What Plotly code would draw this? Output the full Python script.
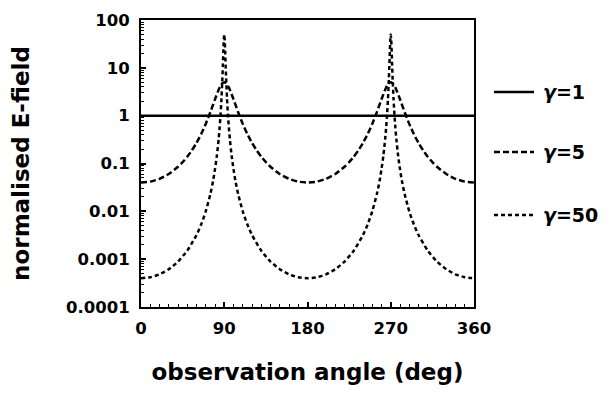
import plotly.graph_objects as go

# observation angle (deg) and normalised E-field for each Lorentz factor
angle_g1 = [0, 360]
field_g1 = [1.0, 1.0]

angle_g5 = [0, 10, 20, 30, 40, 45, 50, 55, 60, 65, 70, 75, 80, 85, 87.5, 90,
            92.5, 95, 100, 105, 110, 115, 120, 125, 130, 135, 140, 150, 160, 170, 180,
            190, 200, 210, 220, 225, 230, 235, 240, 245, 250, 255, 260, 265, 267.5, 270,
            272.5, 275, 280, 285, 290, 295, 300, 305, 310, 315, 320, 330, 340, 350, 360]
field_g5 = [0.040, 0.0418, 0.0478, 0.0604, 0.0854, 0.1067, 0.1386, 0.1885, 0.270, 0.411,
            0.673, 1.187, 2.206, 3.888, 4.68, 5.0,
            4.68, 3.888, 2.206, 1.187, 0.673, 0.411, 0.270, 0.1885, 0.1386, 0.1067, 0.0854,
            0.0604, 0.0478, 0.0418, 0.040,
            0.0418, 0.0478, 0.0604, 0.0854, 0.1067, 0.1386, 0.1885, 0.270, 0.411,
            0.673, 1.187, 2.206, 3.888, 4.68, 5.0,
            4.68, 3.888, 2.206, 1.187, 0.673, 0.411, 0.270, 0.1885, 0.1386, 0.1067, 0.0854,
            0.0604, 0.0478, 0.0418, 0.040]

angle_g50 = [0, 10, 20, 30, 40, 50, 60, 65, 70, 75, 78, 80, 82, 84, 85, 86, 87, 88, 88.5, 89, 89.5, 90,
             90.5, 91, 91.5, 92, 93, 94, 95, 96, 98, 100, 102, 105, 110, 115, 120, 130, 140, 150, 160, 170, 180,
             190, 200, 210, 220, 230, 240, 245, 250, 255, 258, 260, 262, 264, 265, 266, 267, 268, 268.5, 269, 269.5, 270,
             270.5, 271, 271.5, 272, 273, 274, 275, 276, 278, 280, 282, 285, 290, 295, 300, 310, 320, 330, 340, 350, 360]
field_g50 = [0.000400, 0.000419, 0.000482, 0.000616, 0.000890, 0.001506, 0.0032, 0.0053, 0.0100, 0.0231,
             0.0439, 0.0764, 0.144, 0.332, 0.560, 1.047, 2.27, 6.15, 11.2, 21.4, 38.5, 50.0,
             38.5, 21.4, 11.2, 6.15, 2.27, 1.047, 0.560, 0.332, 0.144, 0.0764, 0.0439, 0.0231, 0.0100,
             0.0053, 0.0032, 0.001506, 0.000890, 0.000616, 0.000482, 0.000419, 0.000400,
             0.000419, 0.000482, 0.000616, 0.000890, 0.001506, 0.0032, 0.0053, 0.0100, 0.0231,
             0.0439, 0.0764, 0.144, 0.332, 0.560, 1.047, 2.27, 6.15, 11.2, 21.4, 38.5, 50.0,
             38.5, 21.4, 11.2, 6.15, 2.27, 1.047, 0.560, 0.332, 0.144, 0.0764, 0.0439, 0.0231, 0.0100,
             0.0053, 0.0032, 0.001506, 0.000890, 0.000616, 0.000482, 0.000419, 0.000400]

x_ticks = [0, 90, 180, 270, 360]
y_ticks = [0.0001, 0.001, 0.01, 0.1, 1, 10, 100]
y_labels = ["0.0001", "0.001", "0.01", "0.1", "1", "10", "100"]

series = [
    ("<i>γ</i>=1", angle_g1, field_g1, "solid"),
    ("<i>γ</i>=5", angle_g5, field_g5, "6px,3px"),
    ("<i>γ</i>=50", angle_g50, field_g50, "4px,3px"),
]

FONT = "DejaVu Sans"

fig = go.Figure()
for name, xs, ys, dash in series:
    fig.add_trace(go.Scatter(x=xs, y=ys, mode="lines", name=name,
                             line=dict(color="black", width=2.5, dash=dash, shape="spline", smoothing=0.6),
                             showlegend=False))

# legend drawn to the right of the plot frame
def px_x(p):
    return (p - 141) / 333

def px_y(p):
    return (307 - p) / 287

legend_rows = [92, 152, 215]
for (name, _, _, dash), row in zip(series, legend_rows):
    fig.add_shape(type="line", xref="paper", yref="paper",
                  x0=px_x(494), x1=px_x(534), y0=px_y(row), y1=px_y(row),
                  line=dict(color="black", width=2.5, dash=dash))
    fig.add_annotation(xref="paper", yref="paper", x=px_x(541), y=px_y(row),
                       xanchor="left", yanchor="middle", showarrow=False,
                       text=f"<b>{name}</b>", font=dict(family=FONT, size=19, color="black"))

fig.update_layout(
    width=611, height=406,
    margin=dict(l=141, r=137, t=20, b=99),
    paper_bgcolor="white", plot_bgcolor="white",
    font=dict(family=FONT, color="black", size=16, weight="bold"),
)
fig.update_xaxes(
    range=[0, 360], tickvals=x_ticks, ticktext=[str(v) for v in x_ticks],
    showgrid=False, zeroline=False, showline=True, linecolor="black", linewidth=2, mirror=True,
    ticks="inside", ticklen=5, tickwidth=1.5, tickcolor="black", ticklabelstandoff=5,
    minor=dict(ticks="inside", ticklen=3, tickwidth=1, dtick=10, tickcolor="black", showgrid=False),
    tickfont=dict(family=FONT, size=16.5, weight="bold"),
    title=dict(text="observation angle (deg)", standoff=27,
               font=dict(family=FONT, size=23, weight="bold")),
)
fig.update_yaxes(
    type="log", range=[-4, 2], tickvals=y_ticks, ticktext=y_labels,
    showgrid=False, zeroline=False, showline=True, linecolor="black", linewidth=2, mirror=True,
    ticks="inside", ticklen=5, tickwidth=1.5, tickcolor="black", ticklabelstandoff=6,
    minor=dict(ticks="inside", ticklen=3, tickwidth=1, dtick="D1", tickcolor="black", showgrid=False),
    tickfont=dict(family=FONT, size=16.5, weight="bold"),
    title=dict(text="normalised E-field", standoff=30,
               font=dict(family=FONT, size=23, weight="bold")),
)

fig.write_html("out.html")
